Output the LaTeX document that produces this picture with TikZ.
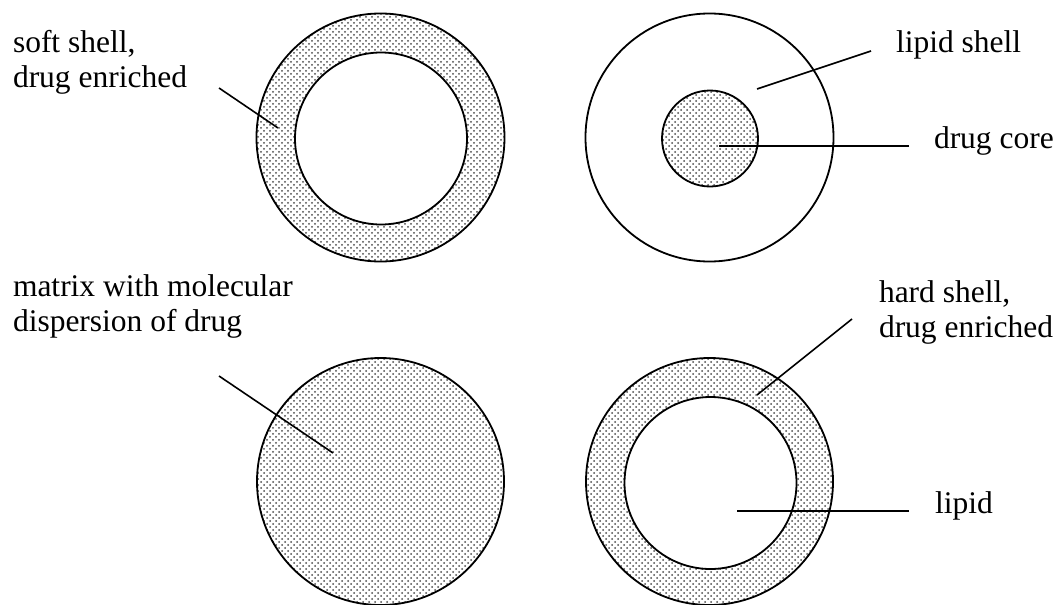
\documentclass[tikz,border=0pt]{standalone}
\usepackage{fontspec}
\setmainfont{Liberation Serif}
\usetikzlibrary{patterns}
\pgfdeclarepatternformonly{mydots}{\pgfpoint{-1.5pt}{-1.5pt}}{\pgfpoint{7.5pt}{7.5pt}}{\pgfpoint{6pt}{6pt}}{%
  \pgfpathcircle{\pgfqpoint{0pt}{0pt}}{1pt}%
  \pgfpathcircle{\pgfqpoint{3pt}{3pt}}{1pt}%
  \pgfusepath{fill}}
\tikzset{
  ring/.style={circle, draw=black, line width=1.8pt, inner sep=0pt, outer sep=0pt},
  dotted fill/.style={pattern=mydots, pattern color=black!70},
  plain fill/.style={fill=white},
  lbl/.style={font=\fontsize{31.5}{35}\selectfont, inner sep=0pt, outer sep=0pt, anchor=base west, align=left},
  leader/.style={line width=1.6pt, draw=black}
}
\begin{document}
\begin{tikzpicture}[x=1pt, y=-1pt]
\useasboundingbox (0,0) rectangle (1058,605);
\fill[white] (0,0) rectangle (1058,605);

% top-left: soft shell
\node[ring, dotted fill, minimum size=248pt] (tlo) at (380.5,137.5) {};
\node[ring, plain fill, minimum size=172pt] (tli) at (381,138.5) {};
% top-right: lipid shell with drug core
\node[ring, plain fill, minimum size=248pt] (tro) at (709.5,137.5) {};
\node[ring, dotted fill, minimum size=96pt] (tri) at (710,138.5) {};
% bottom-left: matrix
\node[ring, dotted fill, minimum size=247pt] (blo) at (380.5,481.5) {};
% bottom-right: hard shell
\node[ring, dotted fill, minimum size=247pt] (bro) at (709.5,481.5) {};
\node[ring, plain fill, minimum size=172pt] (bri) at (710.5,483) {};

% labels (base anchor = baseline of last line)
\node[lbl] (soft) at (13,87) {soft shell,\\drug enriched};
\node[lbl] (lipsh) at (896,52) {lipid shell};
\node[lbl] (core) at (934,148) {drug core};
\node[lbl] (matrix) at (13,331) {matrix with molecular\\dispersion of drug};
\node[lbl] (hard) at (879,337) {hard shell,\\drug enriched};
\node[lbl] (lipid) at (935,513) {lipid};

% leader end points
\coordinate (softA) at (219,88);   \coordinate (softB) at (278,128);
\coordinate (lipshA) at (871,51);  \coordinate (lipshB) at (757,89);
\coordinate (coreA) at (909,146);  \coordinate (coreB) at (719,146);
\coordinate (matA) at (219,376);   \coordinate (matB) at (333,453);
\coordinate (hardA) at (852,319);  \coordinate (hardB) at (757,395);
\coordinate (lipA) at (909,511);   \coordinate (lipB) at (737,511);

\draw[leader] (softA) -- (softB);
\draw[leader] (lipshA) -- (lipshB);
\draw[leader] (coreA) -- (coreB);
\draw[leader] (matA) -- (matB);
\draw[leader] (hardA) -- (hardB);
\draw[leader] (lipA) -- (lipB);
\end{tikzpicture}
\end{document}
